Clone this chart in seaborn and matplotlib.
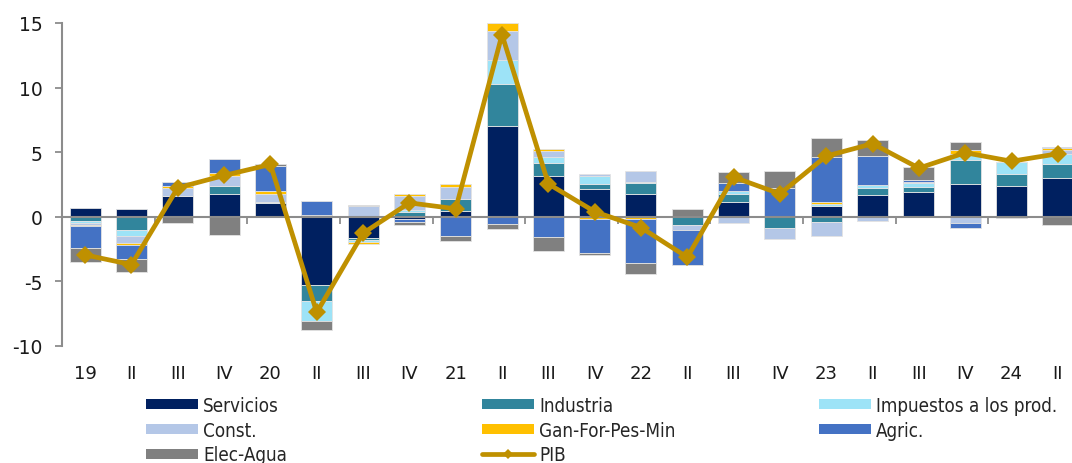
import numpy as np
import pandas as pd
import matplotlib
matplotlib.use("Agg")
import matplotlib.pyplot as plt
from matplotlib.patches import Patch
from matplotlib.lines import Line2D
import seaborn as sns

# Quarterly contributions to GDP growth (percentage points)
quarters = ["19", "II", "III", "IV", "20", "II", "III", "IV", "21", "II", "III",
            "IV", "22", "II", "III", "IV", "23", "II", "III", "IV", "24", "II"]

servicios = [0.65, 0.60, 1.63, 1.73, 1.03, -5.25, -1.65, -0.18, 0.47, 7.05, 3.18,
             2.17, 1.80, 0.00, 1.13, 0.00, 0.83, 1.65, 1.94, 2.56, 2.35, 3.00]
industria = [-0.30, -1.05, 0.00, 0.65, 0.00, -1.30, -0.18, 0.39, 0.93, 3.23, 1.00,
             0.39, 0.78, -0.65, 0.65, -0.85, -0.40, 0.60, 0.36, 1.80, 0.98, 1.06]
impuestos = [-0.20, -0.45, 0.00, 0.00, 0.13, -1.55, -0.15, 0.13, 0.00, 1.89, 0.44,
             0.60, 0.15, 0.00, 0.18, 0.00, 0.18, 0.23, 0.34, 0.50, 0.90, 0.83]
const = [-0.10, -0.55, 0.60, 0.80, 0.57, 0.15, 0.83, 1.08, 0.88, 2.22, 0.44,
         0.18, 0.83, -0.39, -0.46, -0.90, -1.10, -0.30, 0.08, -0.50, 0.00, 0.26]
gan_for = [-0.15, -0.15, 0.15, 0.22, 0.28, 0.00, -0.10, 0.15, 0.26, 0.62, 0.18,
           -0.15, -0.20, 0.00, 0.00, 0.10, 0.15, -0.05, 0.00, 0.30, 0.00, 0.18]
agric = [-1.65, -1.05, 0.30, 1.10, 1.96, 1.10, 0.00, -0.20, -1.45, -0.52, -1.55,
         -2.65, -3.40, -2.70, 0.65, 2.14, 3.44, 2.20, 0.13, -0.34, 0.00, 0.10]
elec_agua = [-1.10, -1.00, -0.45, -1.37, 0.13, -0.65, 0.05, -0.25, -0.45, -0.44, -1.10,
             -0.12, -0.80, 0.60, 0.85, 1.29, 1.52, 1.27, 1.03, 0.60, -0.10, -0.60]
pib = [-2.95, -3.70, 2.25, 3.20, 4.05, -7.40, -1.27, 1.08, 0.62, 14.10, 2.55,
       0.40, -0.83, -3.13, 3.07, 1.78, 4.70, 5.66, 3.77, 4.96, 4.30, 4.88]

series = [
    ("Servicios", servicios, "#002060"),
    ("Industria", industria, "#31859C"),
    ("Impuestos a los prod.", impuestos, "#9DE3F7"),
    ("Const.", const, "#B4C7E7"),
    ("Gan-For-Pes-Min", gan_for, "#FFC000"),
    ("Agric.", agric, "#4472C4"),
    ("Elec-Agua", elec_agua, "#808080"),
]
pib_color = "#BF9000"

sns.set_theme(style="white")
plt.rcParams["font.family"] = ["DejaVu Sans"]
plt.rcParams["axes.unicode_minus"] = False

fig = plt.figure(figsize=(10.72, 4.64), dpi=100)
ax = fig.add_axes([62 / 1072, 1 - 347 / 464, 1019 / 1072, (347 - 24) / 464])

idx = np.arange(len(quarters))
pos_base = np.zeros(len(quarters))
neg_base = np.zeros(len(quarters))
for name, vals, color in series:
    v = np.asarray(vals, dtype=float)
    bottom = np.where(v >= 0, pos_base, neg_base)
    df = pd.DataFrame({"q": idx, "v": v})
    sns.barplot(data=df, x="q", y="v", bottom=bottom, color=color, width=0.67,
                saturation=1, edgecolor="#E3E3E3", linewidth=0.6, ax=ax,
                errorbar=None, zorder=2)
    pos_base = pos_base + np.where(v >= 0, v, 0)
    neg_base = neg_base + np.where(v < 0, v, 0)

sns.lineplot(x=idx, y=pib, color=pib_color, lw=3.4, marker="D", markersize=9,
             markeredgewidth=0, ax=ax, zorder=4)

ax.set_xlim(-0.5, 21.5)
ax.set_ylim(-10, 15)
ax.set_yticks([-10, -5, 0, 5, 10, 15])
ax.set_xticks(idx)
ax.set_xticklabels(quarters)
ax.set_xlabel("")
ax.set_ylabel("")

spine_col = "#8C8C8C"
for side in ["top", "right", "bottom"]:
    ax.spines[side].set_visible(False)
ax.spines["left"].set_color(spine_col)
ax.spines["left"].set_linewidth(1.5)
ax.tick_params(axis="y", direction="out", length=5, width=1.3, color=spine_col,
               pad=9, labelsize=13.5, labelcolor="#1a1a1a", left=True)
ax.tick_params(axis="x", length=0, pad=13, labelsize=13, labelcolor="#1a1a1a")

# zero line with small separators every two quarters
zero_axis = ax.secondary_xaxis(10 / 25)
zero_axis.spines["bottom"].set_color(spine_col)
zero_axis.spines["bottom"].set_linewidth(1.5)
zero_axis.set_xticks(np.arange(1.5, 21, 2))
zero_axis.set_xticklabels([])
zero_axis.tick_params(axis="x", direction="out", length=5, width=1.3, color=spine_col)
zero_axis.set_zorder(3)

# legend in three columns below the plot
handles = {name: Patch(facecolor=color, edgecolor="none") for name, _, color in series}
handles["PIB"] = Line2D([], [], color=pib_color, lw=3.4, marker="D", markersize=5,
                        markeredgewidth=0)
columns = [["Servicios", "Const.", "Elec-Agua"],
           ["Industria", "Gan-For-Pes-Min", "PIB"],
           ["Impuestos a los prod.", "Agric."]]
col_x = [146 / 1072, 482 / 1072, 819 / 1072]
leg_font = {"family": "DejaVu Sans", "stretch": "condensed", "size": 13.5}
for cx, names in zip(col_x, columns):
    leg = fig.legend([handles[n] for n in names], names, loc="upper left",
                     bbox_to_anchor=(cx, 1 - 397 / 464), frameon=False,
                     borderpad=0, borderaxespad=0, handlelength=2.75,
                     handleheight=0.45, handletextpad=0.3, labelspacing=0.3,
                     prop=leg_font)

fig.savefig("out.png", dpi=100)
